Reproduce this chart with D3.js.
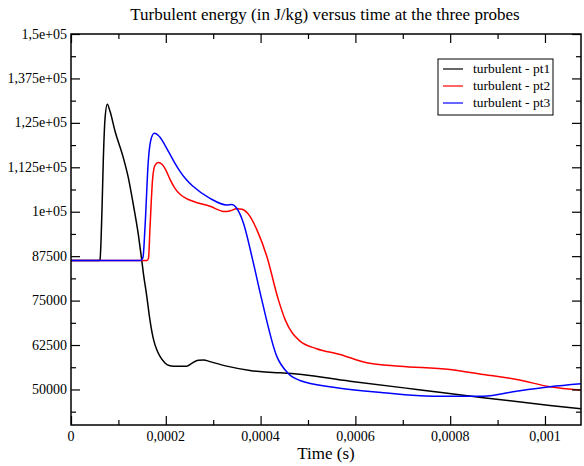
<!DOCTYPE html>
<html>
<head>
<meta charset="utf-8">
<script src="https://cdn.jsdelivr.net/npm/d3@7"></script>
<style>
  body { margin: 0; background: #fff; }
  svg text { font-family: "Liberation Serif", "DejaVu Serif", serif; fill: #000; }
</style>
</head>
<body>
<div id="chart"></div>
<script>
// time (s) and turbulent energy (J/kg)
var pt1 = [
  [0, 86300], [0.0000591, 86300], [0.0000612, 86600], [0.0000654, 100670], [0.0000681, 114270],
  [0.0000717, 126010], [0.0000766, 130240], [0.0000823, 128265], [0.0000928, 122720],
  [0.0001103, 115230], [0.0001209, 109600], [0.0001314, 102080], [0.0001420, 93640],
  [0.0001477, 88010], [0.0001530, 82380], [0.0001593, 76750], [0.0001667, 69430],
  [0.0001709, 66050], [0.0001751, 63510], [0.0001808, 61260], [0.0001878, 59290],
  [0.0001983, 57460], [0.0002089, 56670], [0.0002158, 56560], [0.0002441, 56560],
  [0.0002546, 57320], [0.0002686, 58250], [0.0002806, 58300], [0.0002897, 57970],
  [0.0003285, 56560], [0.0003776, 55350], [0.0004340, 54700], [0.0004479, 54650],
  [0.0005886, 52340], [0.0007293, 50000], [0.0008698, 47660], [0.0010105, 45500],
  [0.001076, 44570]
];

var pt2 = [
  [0, 86300], [0.0001603, 86300], [0.0001635, 86880], [0.0001667, 95610], [0.0001724, 109600],
  [0.0001772, 113060], [0.0001842, 113820], [0.0001920, 113340], [0.0002004, 111650],
  [0.0002089, 109120], [0.0002194, 106590], [0.0002300, 104900], [0.0002426, 103770],
  [0.0002574, 102930], [0.0002932, 101520], [0.0003249, 100030], [0.0003354, 100250],
  [0.0003496, 100870], [0.0003608, 100680], [0.0003776, 98700], [0.0003918, 95040],
  [0.0004129, 87530], [0.0004373, 75340], [0.0004515, 69710], [0.0004831, 63600],
  [0.0005184, 61460], [0.0005675, 59850], [0.0006238, 57520], [0.0006941, 56560],
  [0.0007996, 55630], [0.0008698, 54220], [0.0009403, 52820], [0.0010105, 50760],
  [0.001076, 49800]
];

var pt3 = [
  [0, 86300], [0.0001470, 86300], [0.0001519, 87160], [0.0001561, 95520], [0.0001631, 114270],
  [0.0001688, 120380], [0.0001757, 122070], [0.0001878, 120950], [0.0001983, 118690],
  [0.0002089, 116160], [0.0002194, 113630], [0.0002300, 111370], [0.0002426, 109120],
  [0.0002574, 107150], [0.0002932, 103770], [0.0003285, 101890], [0.0003390, 102000],
  [0.0003481, 101240], [0.0003635, 96930], [0.0003846, 85670], [0.0004023, 75340],
  [0.0004340, 59370], [0.0004584, 54500], [0.0004831, 52530], [0.0005534, 50650],
  [0.0006589, 49070], [0.0007643, 48110], [0.0008698, 48110], [0.0009403, 49520],
  [0.0010105, 50760], [0.001076, 51600]
];

var seriesNames = ["turbulent - pt1", "turbulent - pt2", "turbulent - pt3"];
var seriesColors = ["#000000", "#ff0000", "#0000ff"];

var xTickVals = [0, 0.0002, 0.0004, 0.0006, 0.0008, 0.001];
var xTickLabels = ["0", "0,0002", "0,0004", "0,0006", "0,0008", "0,001"];
var xMinorVals = [0.0001, 0.0003, 0.0005, 0.0007, 0.0009];

var yTickVals = [50000, 62500, 75000, 87500, 100000, 112500, 125000, 137500, 150000];
var yTickLabels = ["50000", "62500", "75000", "87500", "1e+05", "1,125e+05", "1,25e+05", "1,375e+05", "1,5e+05"];
var yMinorVals = [43750, 56250, 68750, 81250, 93750, 106250, 118750, 131250, 143750];

var W = 584, H = 466;
var margin = {top: 34, right: 3, bottom: 41, left: 71};
var w = W - margin.left - margin.right;
var h = H - margin.top - margin.bottom;

var svg = d3.select("#chart")
  .append("svg")
  .attr("width", W)
  .attr("height", H);

var x = d3.scaleLinear().domain([0, 0.001076]).range([0, w]);
var y = d3.scaleLinear().domain([40000, 150000]).range([h, 0]);

var g = svg.append("g")
  .attr("transform", "translate(" + margin.left + "," + margin.top + ")");

// clip the curves to the frame
g.append("clipPath").attr("id", "clip")
  .append("rect").attr("width", w).attr("height", h);

var line = d3.line()
  .x(function(d) { return x(d[0]); })
  .y(function(d) { return y(d[1]); })
  .curve(d3.curveMonotoneX);

[pt1, pt2, pt3].forEach(function(s, i) {
  g.append("path")
    .datum(s)
    .attr("clip-path", "url(#clip)")
    .attr("fill", "none")
    .attr("stroke", seriesColors[i])
    .attr("stroke-width", 1.5)
    .attr("d", line);
});

// inward ticks on all four sides, major and minor
var sides = [
  {make: function() { return d3.axisBottom(x); }, t: "translate(0," + h + ")", v: xTickVals, mv: xMinorVals},
  {make: function() { return d3.axisTop(x); }, t: "translate(0,0)", v: xTickVals, mv: xMinorVals},
  {make: function() { return d3.axisLeft(y); }, t: "translate(0,0)", v: yTickVals, mv: yMinorVals},
  {make: function() { return d3.axisRight(y); }, t: "translate(" + w + ",0)", v: yTickVals, mv: yMinorVals}
];

sides.forEach(function(sd) {
  [[sd.v, 9], [sd.mv, 5]].forEach(function(p) {
    var s = g.append("g")
      .attr("transform", sd.t)
      .call(sd.make().tickValues(p[0]).tickSize(-p[1]).tickSizeOuter(0).tickFormat(""));
    s.select(".domain").remove();
    s.selectAll("line").attr("stroke", "#000").attr("stroke-width", 1.2);
  });
});

g.append("rect")
  .attr("width", w)
  .attr("height", h)
  .attr("fill", "none")
  .attr("stroke", "#000")
  .attr("stroke-width", 1.5);

// tick labels
g.selectAll("text.xlab")
  .data(xTickVals)
  .enter().append("text")
  .attr("class", "xlab")
  .attr("x", function(d) { return x(d); })
  .attr("y", h + 16)
  .attr("text-anchor", "middle")
  .style("font-size", "14px")
  .text(function(d, i) { return xTickLabels[i]; });

g.selectAll("text.ylab")
  .data(yTickVals)
  .enter().append("text")
  .attr("class", "ylab")
  .attr("x", -4)
  .attr("y", function(d) { return y(d); })
  .attr("dy", "0.33em")
  .attr("text-anchor", "end")
  .style("font-size", "14px")
  .text(function(d, i) { return yTickLabels[i]; });

// titles
svg.append("text")
  .attr("x", 325)
  .attr("y", 20)
  .attr("text-anchor", "middle")
  .style("font-size", "17px")
  .text("Turbulent energy (in J/kg) versus time at the three probes");

svg.append("text")
  .attr("x", 326)
  .attr("y", 459)
  .attr("text-anchor", "middle")
  .style("font-size", "17px")
  .text("Time (s)");

// legend
var legend = svg.append("g")
  .attr("transform", "translate(438,59)");

legend.append("rect")
  .attr("width", 115)
  .attr("height", 56)
  .attr("fill", "#fff")
  .attr("stroke", "#000")
  .attr("stroke-width", 1);

seriesNames.forEach(function(name, i) {
  var yy = 10 + i * 17;
  legend.append("line")
    .attr("x1", 5).attr("x2", 25)
    .attr("y1", yy).attr("y2", yy)
    .attr("stroke", seriesColors[i])
    .attr("stroke-width", 1.2);
  legend.append("text")
    .attr("x", 35)
    .attr("y", yy)
    .attr("dy", "0.33em")
    .style("font-size", "13.5px")
    .text(name);
});
</script>
</body>
</html>
